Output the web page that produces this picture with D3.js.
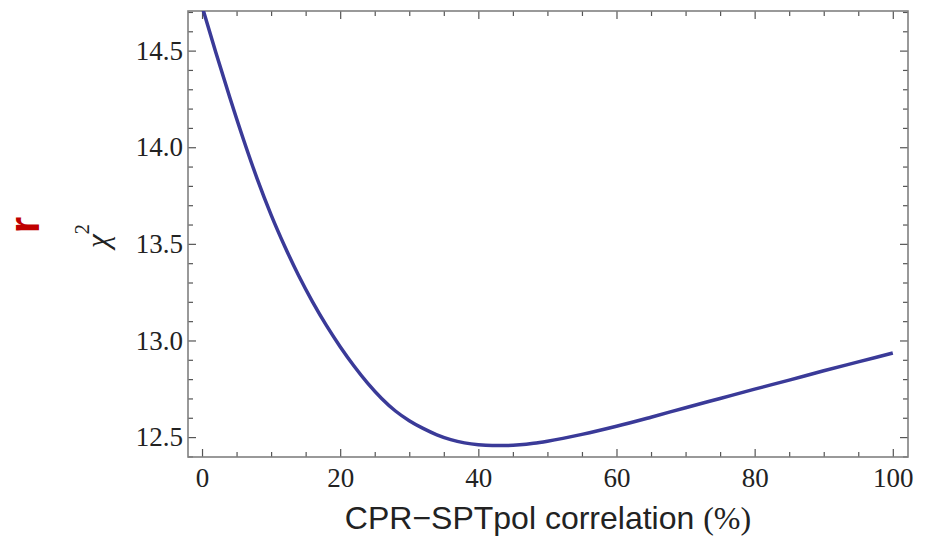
<!DOCTYPE html>
<html>
<head>
<meta charset="utf-8">
<script src="https://cdn.jsdelivr.net/npm/d3@7"></script>
<style>
    html, body { margin: 0; padding: 0; background: #ffffff; }
    #chart { width: 926px; height: 536px; }
</style>
</head>
<body>
<div id="chart"></div>
<script>
// correlation (%) and chi^2
const corrX = [0, 2, 4, 6, 8, 10, 12, 14, 16, 18, 20, 22, 24, 26, 28, 30, 32, 34, 36, 38,
               40, 42, 44, 46, 48, 50, 55, 60, 65, 70, 75, 80, 85, 90, 95, 100];
const chi2 = [14.73, 14.49, 14.26, 14.04, 13.835, 13.65, 13.485, 13.335, 13.20, 13.078,
              12.968, 12.868, 12.778, 12.70, 12.635, 12.585, 12.545, 12.512, 12.487, 12.47,
              12.46, 12.456, 12.456, 12.46, 12.468, 12.479, 12.514, 12.556, 12.603, 12.652,
              12.70, 12.748, 12.795, 12.843, 12.889, 12.935];

const xMajorTicks = [0, 20, 40, 60, 80, 100];
const xMinorTicks = [5, 10, 15, 25, 30, 35, 45, 50, 55, 65, 70, 75, 85, 90, 95];
const yMajorTicks = [12.5, 13.0, 13.5, 14.0, 14.5];
const yMinorTicks = [12.4, 12.6, 12.7, 12.8, 12.9, 13.1, 13.2, 13.3, 13.4, 13.6, 13.7, 13.8, 13.9, 14.1, 14.2, 14.3, 14.4, 14.6, 14.7];

const xLabel = 'CPR\u2212SPTpol correlation ';
const xLabelUnit = '(%)';

function drawChart() {
    const width = 926;
    const height = 536;
    const margin = { top: 11, right: 18, bottom: 79, left: 188 };
    const innerWidth = width - margin.left - margin.right;
    const innerHeight = height - margin.top - margin.bottom;

    const root = d3.select('#chart')
        .append('svg')
        .attr('width', width)
        .attr('height', height);

    const svg = root.append('g')
        .attr('transform', `translate(${margin.left}, ${margin.top})`);

    const xScale = d3.scaleLinear().domain([-2.03, 102.2]).range([0, innerWidth]);
    const yScale = d3.scaleLinear().domain([12.397, 14.705]).range([innerHeight, 0]);

    const serif = '"Liberation Serif", "DejaVu Serif", serif';
    const tickColor = '#555';

    // helper for inward ticks on every side
    function addAxis(axis, transform, labelled) {
        const g = svg.append('g')
            .attr('transform', transform)
            .call(axis);
        g.select('.domain').remove();
        g.selectAll('line').attr('stroke', tickColor).attr('stroke-width', 1.2);
        g.selectAll('text')
            .attr('fill', '#222')
            .style('font-family', serif)
            .style('font-size', '27px');
        if (!labelled) g.selectAll('text').remove();
        return g;
    }

    // Bottom axis
    addAxis(d3.axisBottom(xScale).tickValues(xMajorTicks).tickSize(-8).tickPadding(11).tickFormat(d3.format('d')),
        `translate(0, ${innerHeight})`, true);
    addAxis(d3.axisBottom(xScale).tickValues(xMinorTicks).tickSize(-5).tickFormat(''),
        `translate(0, ${innerHeight})`, false);

    // Top axis (mirror)
    addAxis(d3.axisTop(xScale).tickValues(xMajorTicks).tickSize(-8).tickFormat(''), 'translate(0,0)', false);
    addAxis(d3.axisTop(xScale).tickValues(xMinorTicks).tickSize(-5).tickFormat(''), 'translate(0,0)', false);

    // Left axis
    addAxis(d3.axisLeft(yScale).tickValues(yMajorTicks).tickSize(-8).tickPadding(5).tickFormat(d3.format('.1f')),
        'translate(0,0)', true);
    addAxis(d3.axisLeft(yScale).tickValues(yMinorTicks).tickSize(-5).tickFormat(''), 'translate(0,0)', false);

    // Right axis (mirror)
    addAxis(d3.axisRight(yScale).tickValues(yMajorTicks).tickSize(-8).tickFormat(''),
        `translate(${innerWidth}, 0)`, false);
    addAxis(d3.axisRight(yScale).tickValues(yMinorTicks).tickSize(-5).tickFormat(''),
        `translate(${innerWidth}, 0)`, false);

    // Frame
    svg.append('rect')
        .attr('x', 0)
        .attr('y', 0)
        .attr('width', innerWidth)
        .attr('height', innerHeight)
        .attr('fill', 'none')
        .attr('stroke', '#808080')
        .attr('stroke-width', 1.6);

    // Curve, clipped to the frame
    svg.append('clipPath')
        .attr('id', 'plot-clip')
        .append('rect')
        .attr('width', innerWidth)
        .attr('height', innerHeight);

    const line = d3.line()
        .x((d, i) => xScale(corrX[i]))
        .y(d => yScale(d))
        .curve(d3.curveMonotoneX);

    svg.append('path')
        .datum(chi2)
        .attr('d', line)
        .attr('clip-path', 'url(#plot-clip)')
        .attr('fill', 'none')
        .attr('stroke', '#3a3a98')
        .attr('stroke-width', 3.5)
        .attr('stroke-linejoin', 'round');

    // X axis title
    const xt = svg.append('text')
        .attr('x', innerWidth / 2)
        .attr('y', innerHeight + 72)
        .attr('text-anchor', 'middle')
        .attr('fill', '#222')
        .style('font-family', '"Liberation Sans", Arial, sans-serif')
        .style('font-size', '32px');
    xt.append('tspan').text(xLabel);
    xt.append('tspan').style('font-family', serif).text(xLabelUnit);

    // Y axis title (chi^2)
    const yt = root.append('text')
        .attr('transform', 'translate(108, 236) rotate(-90)')
        .attr('text-anchor', 'middle')
        .attr('fill', '#222')
        .style('font-family', serif)
        .style('font-size', '31px');
    yt.append('tspan').style('font-style', 'italic').text('\u03c7');
    yt.append('tspan').attr('dy', -19).style('font-size', '21px').text('2');

    // stray red label at far left
    root.append('text')
        .attr('transform', 'translate(39, 225) rotate(-90)')
        .attr('text-anchor', 'middle')
        .attr('fill', '#c00000')
        .style('font-family', '"Liberation Sans", Arial, sans-serif')
        .style('font-weight', 'bold')
        .style('font-size', '42px')
        .text('r');
}

drawChart();
</script>
</body>
</html>
